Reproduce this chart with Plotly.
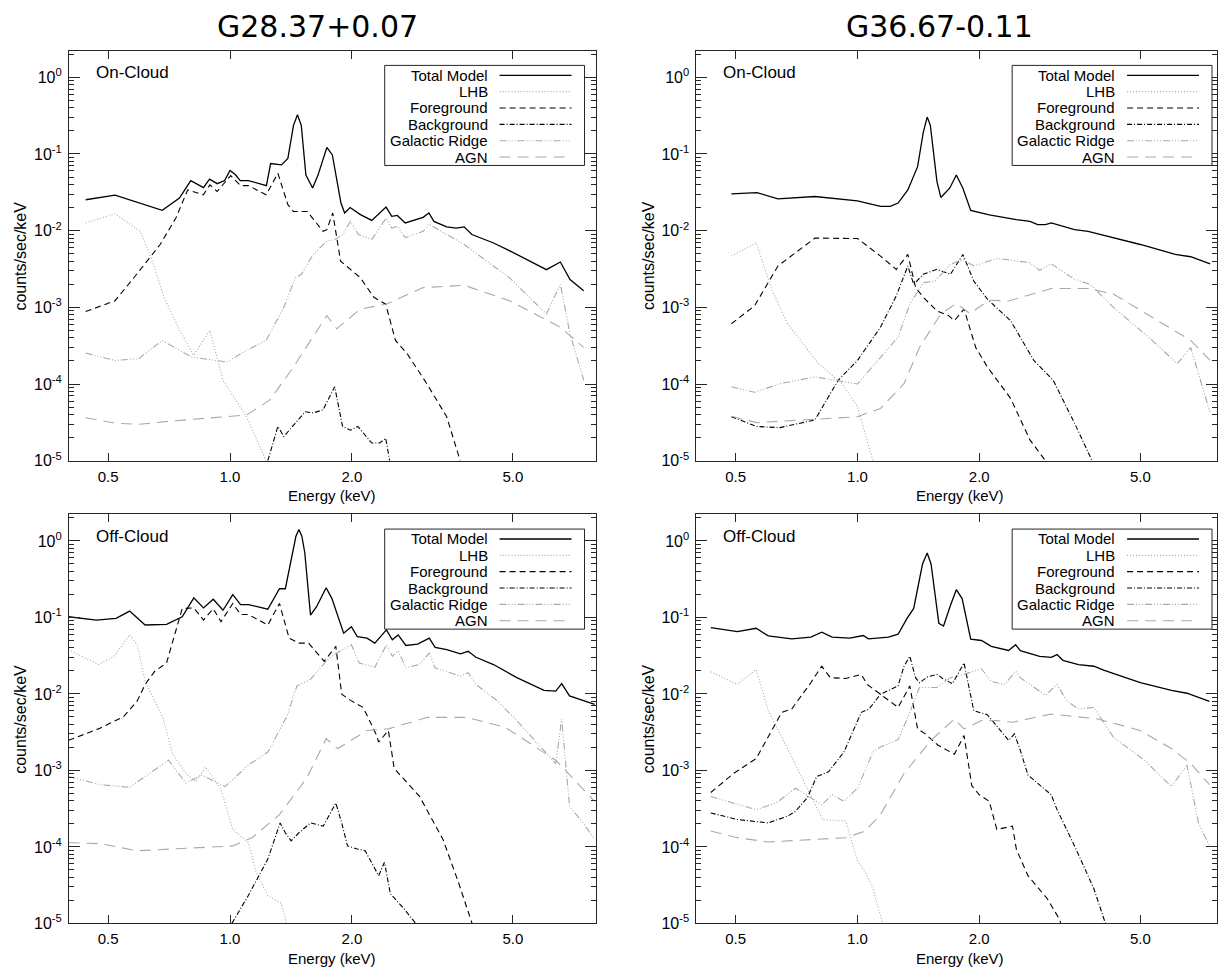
import plotly.graph_objects as go
import math

# ---------------- data (Energy keV, counts/sec/keV) ----------------
# Panel A: G28.37+0.07 On-Cloud
A_tot_E = [0.44,0.52,0.68,0.75,0.80,0.825,0.86,0.89,0.93,0.97,1.00,1.03,1.06,1.11,1.23,1.26,1.34,1.39,1.435,1.468,1.50,1.54,1.60,1.65,1.735,1.79,1.88,1.92,1.98,2.10,2.24,2.43,2.51,2.59,2.71,3.00,3.10,3.19,3.43,3.62,3.79,3.96,4.48,4.90,6.05,6.55,6.92,7.48]
A_tot_V = [0.0253,0.029,0.0184,0.0266,0.045,0.0415,0.0365,0.047,0.041,0.045,0.061,0.054,0.045,0.045,0.0387,0.075,0.072,0.0875,0.2365,0.325,0.2365,0.053,0.036,0.053,0.1215,0.097,0.0229,0.017,0.020,0.0162,0.0136,0.0203,0.0154,0.0158,0.0126,0.0149,0.017,0.0132,0.0112,0.0108,0.0112,0.0089,0.0069,0.0055,0.0031,0.0039,0.0023,0.00164]
A_lhb_E = [0.44,0.52,0.60,0.643,0.687,0.751,0.813,0.892,0.961,1.004,1.098,1.228]
A_lhb_V = [0.0126,0.0166,0.0098,0.0040,0.00135,0.0005,0.000236,0.0005,0.000112,7.9e-5,3.75e-5,1.0e-5]
A_fg_E = [0.44,0.52,0.588,0.672,0.735,0.786,0.859,0.892,0.929,1.004,1.062,1.111,1.228,1.313,1.39,1.435,1.552,1.697,1.735,1.794,1.876,1.984,2.098,2.268,2.425,2.564,2.741,3.064,3.43,3.705]
A_fg_V = [0.00088,0.00122,0.0027,0.0066,0.0146,0.034,0.0293,0.0395,0.0324,0.0522,0.0387,0.0387,0.0293,0.056,0.0218,0.0178,0.0178,0.0098,0.0103,0.017,0.004,0.0031,0.00244,0.00135,0.0011,0.00037,0.000248,0.000101,3.75e-5,1.0e-5]
A_bg_E = [1.24,1.313,1.358,1.535,1.605,1.697,1.814,1.897,1.984,2.07,2.24,2.345,2.425,2.48]
A_bg_V = [1.0e-5,2.8e-5,2.07e-5,4.35e-5,4.2e-5,4.6e-5,9.2e-5,2.8e-5,2.5e-5,2.8e-5,1.7e-5,1.7e-5,1.97e-5,1.0e-5]
A_gr_E = [0.44,0.52,0.595,0.68,0.804,0.982,1.098,1.228,1.358,1.451,1.501,1.605,1.735,1.814,1.897,1.984,2.075,2.24,2.43,2.51,2.59,2.71,3.00,3.10,3.79,4.90,6.05,6.55,6.92,7.48]
A_gr_V = [0.000253,0.000203,0.000214,0.000369,0.000225,0.000194,0.000274,0.00037,0.001,0.00244,0.0027,0.0049,0.0073,0.00766,0.0089,0.0132,0.0089,0.00766,0.0146,0.0108,0.0114,0.0081,0.0098,0.0122,0.0066,0.00244,0.00082,0.002,0.00045,0.000112]
A_agn_E = [0.44,0.52,0.595,0.719,1.098,1.255,1.435,1.605,1.735,1.835,2.10,2.43,3.00,3.79,4.90,6.55,7.48]
A_agn_V = [3.64e-5,3.08e-5,2.98e-5,3.3e-5,3.94e-5,6.2e-5,0.000167,0.00041,0.00078,0.000525,0.00095,0.0011,0.00181,0.00194,0.00122,0.00055,0.0003]

# Panel B: G36.67-0.11 On-Cloud
B_tot_E = [0.488,0.564,0.636,0.785,1.0,1.14,1.206,1.26,1.332,1.408,1.455,1.487,1.514,1.572,1.607,1.69,1.755,1.822,1.905,2.117,2.47,2.668,2.789,2.914,3.013,3.439,3.715,4.29,5.0,6.10,6.66,7.44]
B_tot_V = [0.0302,0.0314,0.026,0.0279,0.0245,0.0207,0.0207,0.0229,0.034,0.0683,0.194,0.303,0.2365,0.0436,0.0271,0.0358,0.0532,0.0358,0.0184,0.0161,0.0139,0.01324,0.012,0.012,0.0126,0.0103,0.0098,0.00805,0.0066,0.0049,0.00457,0.0037]
B_lhb_E = [0.488,0.562,0.616,0.672,0.802,0.916,1.0,1.092]
B_lhb_V = [0.00466,0.00694,0.00164,0.00061,0.000184,0.000101,5.06e-5,1.0e-5]
B_fg_E = [0.488,0.557,0.636,0.785,1.0,1.14,1.247,1.332,1.392,1.455,1.572,1.68,1.736,1.834,1.96,2.094,2.39,2.668,2.914]
B_fg_V = [0.00061,0.00105,0.00346,0.0080,0.0079,0.00466,0.00313,0.0049,0.00181,0.00135,0.0009,0.00078,0.00067,0.00095,0.0003,0.000167,6.5e-5,1.87e-5,1.0e-5]
B_bg_E = [0.488,0.564,0.643,0.785,0.896,1.0,1.14,1.247,1.332,1.377,1.455,1.572,1.698,1.822,1.938,2.094,2.39,2.728,3.046,3.44,3.80]
B_bg_V = [3.75e-5,2.79e-5,2.7e-5,3.4e-5,0.000112,0.000203,0.00055,0.00141,0.00346,0.002,0.0027,0.00313,0.0027,0.0049,0.0022,0.00128,0.00067,0.000203,0.000112,3.08e-5,1.0e-5]
B_gr_E = [0.488,0.557,0.643,0.785,1.0,1.14,1.26,1.347,1.455,1.554,1.698,1.822,1.938,2.212,2.668,2.82,3.013,3.44,3.756,4.29,5.35,6.17,6.66,7.44]
B_gr_V = [9.2e-5,7.8e-5,0.000101,0.000124,0.0001,0.000225,0.00041,0.0011,0.0021,0.0022,0.00363,0.0042,0.00346,0.00435,0.00382,0.00304,0.0037,0.00232,0.002,0.001,0.00037,0.000184,0.0003,4.2e-5]
B_agn_E = [0.488,0.564,0.785,1.0,1.14,1.303,1.423,1.607,1.755,1.896,2.117,2.363,3.013,3.715,4.29,5.35,6.66,7.44]
B_agn_V = [3.8e-5,3.14e-5,3.47e-5,3.75e-5,4.8e-5,0.000101,0.0003,0.00082,0.00112,0.00083,0.00124,0.00121,0.00176,0.00176,0.00149,0.00074,0.00037,0.000203]

# Panel C: G28.37+0.07 Off-Cloud
C_tot_E = [0.399,0.468,0.523,0.565,0.617,0.697,0.762,0.814,0.86,0.909,0.961,1.016,1.062,1.11,1.24,1.325,1.37,1.431,1.455,1.48,1.505,1.53,1.581,1.635,1.728,1.786,1.909,1.995,2.063,2.18,2.279,2.435,2.518,2.603,2.72,2.908,3.107,3.212,3.432,3.71,3.877,4.053,4.477,5.113,5.97,6.38,6.60,6.90,7.96]
C_tot_V = [0.102,0.0924,0.097,0.121,0.0796,0.081,0.102,0.18,0.133,0.173,0.124,0.198,0.147,0.147,0.128,0.237,0.237,0.706,1.15,1.41,1.15,0.706,0.107,0.137,0.244,0.176,0.0621,0.0757,0.0562,0.0535,0.0461,0.0686,0.051,0.0591,0.043,0.0448,0.0535,0.0405,0.0378,0.0333,0.036,0.0301,0.0242,0.0163,0.0111,0.0109,0.0136,0.0094,0.0073]
C_lhb_E = [0.399,0.473,0.517,0.565,0.59,0.617,0.682,0.721,0.778,0.823,0.87,0.95,1.016,1.11,1.16,1.24,1.34,1.378]
C_lhb_V = [0.0378,0.0242,0.031,0.0591,0.0439,0.0147,0.00494,0.00166,0.00091,0.00071,0.00111,0.00056,0.000169,0.000114,4.66e-5,2.32e-5,1.82e-5,1.0e-5]
C_fg_E = [0.399,0.473,0.546,0.59,0.617,0.652,0.697,0.762,0.814,0.86,0.909,0.95,1.016,1.062,1.11,1.24,1.325,1.40,1.48,1.564,1.709,1.826,1.888,1.995,2.133,2.294,2.33,2.462,2.545,2.94,3.357,3.667,3.963]
C_fg_V = [0.00247,0.00349,0.00504,0.0081,0.0133,0.0198,0.0254,0.1306,0.133,0.0924,0.13,0.0879,0.152,0.109,0.109,0.0796,0.152,0.0535,0.0461,0.0461,0.0267,0.0418,0.0099,0.0081,0.00666,0.003,0.00235,0.00332,0.00106,0.000457,0.000126,3.46e-5,1.0e-5]
C_bg_E = [1.011,1.11,1.24,1.33,1.37,1.416,1.48,1.581,1.70,1.826,1.888,1.951,2.063,2.157,2.33,2.408,2.49,2.69,2.876]
C_bg_V = [1.0e-5,2.32e-5,6.93e-5,0.000206,0.000153,0.00012,0.000153,0.000206,0.000187,0.000374,0.000206,0.000103,9.4e-5,8.9e-5,4.2e-5,6.3e-5,2.44e-5,1.56e-5,1.0e-5]
C_gr_E = [0.399,0.478,0.565,0.624,0.705,0.778,0.851,0.972,1.11,1.24,1.385,1.463,1.581,1.728,1.806,1.995,2.085,2.279,2.435,2.518,2.603,2.72,2.94,3.107,3.212,3.71,3.877,4.053,4.577,5.113,6.38,6.60,6.90,7.45,7.96]
C_gr_V = [0.00083,0.00065,0.0006,0.00087,0.00136,0.00068,0.00087,0.000615,0.00117,0.00174,0.0052,0.0127,0.0155,0.0267,0.0326,0.0439,0.0254,0.0223,0.0439,0.031,0.0367,0.0219,0.0242,0.0342,0.0219,0.0171,0.0189,0.0133,0.0081,0.00448,0.00123,0.0047,0.00034,0.000206,0.000126]
C_agn_E = [0.399,0.478,0.59,0.814,1.016,1.134,1.325,1.547,1.728,1.846,2.18,2.462,3.073,3.834,4.785,6.38,7.96]
C_agn_V = [0.000114,0.00011,8.9e-5,9.8e-5,0.000103,0.000132,0.000264,0.00079,0.0026,0.00193,0.00332,0.00349,0.00494,0.00494,0.00367,0.00136,0.000394]

# Panel D: G36.67-0.11 Off-Cloud
D_tot_E = [0.434,0.505,0.562,0.602,0.688,0.767,0.816,0.866,0.957,1.034,1.064,1.193,1.26,1.326,1.377,1.448,1.487,1.52,1.589,1.632,1.698,1.755,1.814,1.905,2.025,2.141,2.363,2.46,2.526,2.82,3.013,3.113,3.219,3.516,3.839,4.058,5.0,5.97,6.52,7.41]
D_tot_V = [0.0735,0.0653,0.0721,0.0574,0.0525,0.0551,0.064,0.0551,0.0535,0.058,0.0525,0.0551,0.0603,0.097,0.131,0.499,0.693,0.499,0.0836,0.0773,0.144,0.23,0.176,0.052,0.0499,0.0418,0.037,0.0439,0.0367,0.031,0.0301,0.0326,0.0275,0.0242,0.023,0.0204,0.014,0.0111,0.0102,0.008]
D_lhb_E = [0.434,0.505,0.562,0.602,0.688,0.767,0.82,0.936,1.0,1.045,1.092,1.154]
D_lhb_V = [0.0195,0.0133,0.0208,0.00603,0.0015,0.000456,0.000228,0.000217,6.6e-5,4.66e-5,2.84e-5,1.0e-5]
D_fg_E = [0.434,0.494,0.562,0.602,0.65,0.688,0.767,0.816,0.857,0.936,1.022,1.057,1.14,1.26,1.347,1.408,1.471,1.582,1.736,1.834,1.917,2.0,2.117,2.21,2.416,2.47,2.638,2.946,3.148,3.18]
D_fg_V = [0.000514,0.00091,0.00143,0.00272,0.00574,0.00634,0.014,0.023,0.0163,0.0159,0.018,0.0133,0.0099,0.00666,0.0127,0.00349,0.003,0.00213,0.00163,0.00286,0.00063,0.00048,0.000394,0.000169,0.000187,9.3e-5,4.2e-5,2.1e-5,1.16e-5,1.0e-5]
D_bg_E = [0.434,0.505,0.602,0.672,0.703,0.751,0.793,0.848,0.926,1.022,1.068,1.14,1.26,1.303,1.347,1.392,1.423,1.487,1.572,1.624,1.717,1.834,1.938,2.094,2.363,2.443,2.526,2.638,3.013,3.113,3.439,3.839,4.10]
D_bg_V = [0.000278,0.000228,0.000206,0.000252,0.000292,0.000435,0.00083,0.00096,0.00174,0.00574,0.00634,0.0099,0.0127,0.023,0.031,0.0163,0.014,0.0166,0.018,0.0159,0.0136,0.0254,0.00603,0.00535,0.00247,0.003,0.00183,0.00087,0.00048,0.000307,0.000103,2.84e-5,1.0e-5]
D_gr_E = [0.434,0.562,0.629,0.703,0.816,0.866,0.926,1.0,1.092,1.14,1.26,1.332,1.423,1.572,1.698,1.834,2.025,2.141,2.312,2.46,2.526,2.914,3.113,3.29,3.516,3.839,4.287,5.115,5.97,6.52,6.96,7.41]
D_gr_V = [0.000456,0.000307,0.000374,0.000585,0.000356,0.00048,0.000394,0.000585,0.00174,0.00202,0.00252,0.00494,0.0121,0.0121,0.0163,0.018,0.0213,0.0145,0.0133,0.0198,0.0163,0.0096,0.0133,0.0081,0.00634,0.00666,0.00272,0.00136,0.000615,0.00117,0.000206,0.000103]
D_agn_E = [0.434,0.505,0.602,0.767,0.936,1.045,1.14,1.303,1.52,1.736,1.834,2.025,2.21,2.416,3.013,3.926,5.0,5.97,6.66,7.41]
D_agn_V = [0.000161,0.000132,0.000116,0.000126,0.000132,0.000161,0.000264,0.00091,0.00247,0.0047,0.00349,0.00448,0.00448,0.00426,0.00546,0.0047,0.00332,0.00193,0.00123,0.00065]

components = ["Total Model", "LHB", "Foreground", "Background", "Galactic Ridge", "AGN"]
titles = ["G28.37+0.07", "G36.67-0.11"]
panel_labels = ["On-Cloud", "On-Cloud", "Off-Cloud", "Off-Cloud"]
x_tick_vals = [0.5, 1.0, 2.0, 5.0]
x_tick_text = ["0.5", "1.0", "2.0", "5.0"]
y_tick_vals = [1, 0.1, 0.01, 0.001, 1e-4, 1e-5]
y_tick_text = ["10<sup>0</sup>", "10<sup>-1</sup>", "10<sup>-2</sup>", "10<sup>-3</sup>", "10<sup>-4</sup>", "10<sup>-5</sup>"]

panels = [
    [(A_tot_E, A_tot_V), (A_lhb_E, A_lhb_V), (A_fg_E, A_fg_V), (A_bg_E, A_bg_V), (A_gr_E, A_gr_V), (A_agn_E, A_agn_V)],
    [(B_tot_E, B_tot_V), (B_lhb_E, B_lhb_V), (B_fg_E, B_fg_V), (B_bg_E, B_bg_V), (B_gr_E, B_gr_V), (B_agn_E, B_agn_V)],
    [(C_tot_E, C_tot_V), (C_lhb_E, C_lhb_V), (C_fg_E, C_fg_V), (C_bg_E, C_bg_V), (C_gr_E, C_gr_V), (C_agn_E, C_agn_V)],
    [(D_tot_E, D_tot_V), (D_lhb_E, D_lhb_V), (D_fg_E, D_fg_V), (D_bg_E, D_bg_V), (D_gr_E, D_gr_V), (D_agn_E, D_agn_V)],
]

# ---------------- styles ----------------
W, H = 1218, 975
GRAY = "#a9a9a9"
AX = "#262626"
styles = [
    dict(color="black", width=1.3, dash="solid"),
    dict(color=GRAY, width=1.1, dash="1px,2px"),
    dict(color="black", width=1.1, dash="6px,4px"),
    dict(color="black", width=1.1, dash="5px,2px,1px,2px"),
    dict(color=GRAY, width=1.1, dash="7px,2px,1px,2px,1px,2px,1px,2px"),
    dict(color=GRAY, width=1.1, dash="11px,7px"),
]
TXT = "Liberation Sans, Arial, Helvetica, sans-serif"

# pixel geometry of panels
col_left = [69, 697]
col_right = [596, 1218]
row_top = [51, 519]
row_bot = [465, 932]
x_range_left = [math.log10(0.4), math.log10(8.0)]
x_range_right = [math.log10(0.4), math.log10(0.4) + (1218 - 697) / 405.0]
y_range = [-5, 0.349]

minor_y = [m * 10.0 ** k for k in range(-5, 1) for m in range(2, 10)]

fig = go.Figure()
layout = dict(width=W, height=H, margin=dict(l=0, r=0, t=0, b=0),
              paper_bgcolor="white", plot_bgcolor="white", showlegend=False)
annotations = []
shapes = []

for p in range(4):
    r, c = divmod(p, 2)
    idx = "" if p == 0 else str(p + 1)
    xd = [col_left[c] / W, col_right[c] / W]
    yd = [1 - row_bot[r] / H, 1 - row_top[r] / H]
    layout["xaxis" + idx] = dict(
        domain=xd, type="log", range=x_range_left if c == 0 else x_range_right,
        anchor="y" + idx, tickmode="array", tickvals=x_tick_vals, ticktext=x_tick_text,
        ticks="inside", ticklen=8, tickwidth=1, tickcolor=AX, showline=True, linecolor=AX,
        linewidth=1, mirror="ticks", showgrid=False, zeroline=False,
        tickfont=dict(family=TXT, size=15, color="black"), ticklabelstandoff=2)
    layout["yaxis" + idx] = dict(
        domain=yd, type="log", range=y_range, anchor="x" + idx,
        tickmode="array", tickvals=y_tick_vals, ticktext=y_tick_text,
        ticks="inside", ticklen=11, tickwidth=1, tickcolor=AX, showline=True, linecolor=AX,
        linewidth=1, mirror="ticks", showgrid=False, zeroline=False,
        minor=dict(tickmode="array", tickvals=minor_y, ticks="inside", ticklen=5, tickcolor=AX, tickwidth=1, showgrid=False),
        tickfont=dict(family=TXT, size=16, color="black"), ticklabelstandoff=3)
    for k in range(6):
        E, V = panels[p][k]
        fig.add_trace(go.Scatter(x=E, y=V, mode="lines", line=styles[k], name=components[k],
                                 xaxis="x" + idx, yaxis="y" + idx, hoverinfo="skip"))
    L, T, R, B = col_left[c], row_top[r], col_right[c], row_bot[r]
    annotations.append(dict(text=panel_labels[p], x=(L + 25) / W, y=1 - (T + 22) / H, xref="paper", yref="paper",
                            xanchor="left", yanchor="middle", showarrow=False, font=dict(family=TXT, size=17, color="black")))
    annotations.append(dict(text="counts/sec/keV", x=(L - 48) / W, y=1 - ((T + B) / 2) / H, xref="paper", yref="paper",
                            xanchor="center", yanchor="middle", textangle=-90, showarrow=False,
                            font=dict(family=TXT, size=16, color="black")))
    annotations.append(dict(text="Energy (keV)", x=(L + 263.5) / W, y=1 - (B + 35) / H, xref="paper", yref="paper",
                            xanchor="center", yanchor="middle", showarrow=False,
                            font=dict(family=TXT, size=15, color="black")))
    bx0, by0 = L + 316, T + 15
    bx1, by1 = bx0 + 200, by0 + 101
    shapes.append(dict(type="rect", xref="paper", yref="paper", x0=bx0 / W, x1=bx1 / W, y0=1 - by1 / H, y1=1 - by0 / H,
                       line=dict(color=AX, width=1), fillcolor="white", layer="above"))
    for k in range(6):
        yy = by0 + 10 + k * 16.5
        annotations.append(dict(text=components[k], x=(bx0 + 105) / W, y=1 - yy / H, xref="paper", yref="paper",
                                xanchor="right", yanchor="middle", showarrow=False,
                                font=dict(family=TXT, size=15, color="black")))
        shapes.append(dict(type="line", xref="paper", yref="paper", x0=(bx0 + 115) / W, x1=(bx0 + 187) / W,
                           y0=1 - yy / H, y1=1 - yy / H, line=styles[k], layer="above"))

for c in range(2):
    annotations.append(dict(text=titles[c], x=(318 + 622 * c) / W, y=1 - 27 / H, xref="paper", yref="paper",
                            xanchor="center", yanchor="middle", showarrow=False,
                            font=dict(family="DejaVu Sans", size=30, color="black")))

layout["annotations"] = annotations
layout["shapes"] = shapes
fig.update_layout(**layout)
fig.write_html("out.html")
